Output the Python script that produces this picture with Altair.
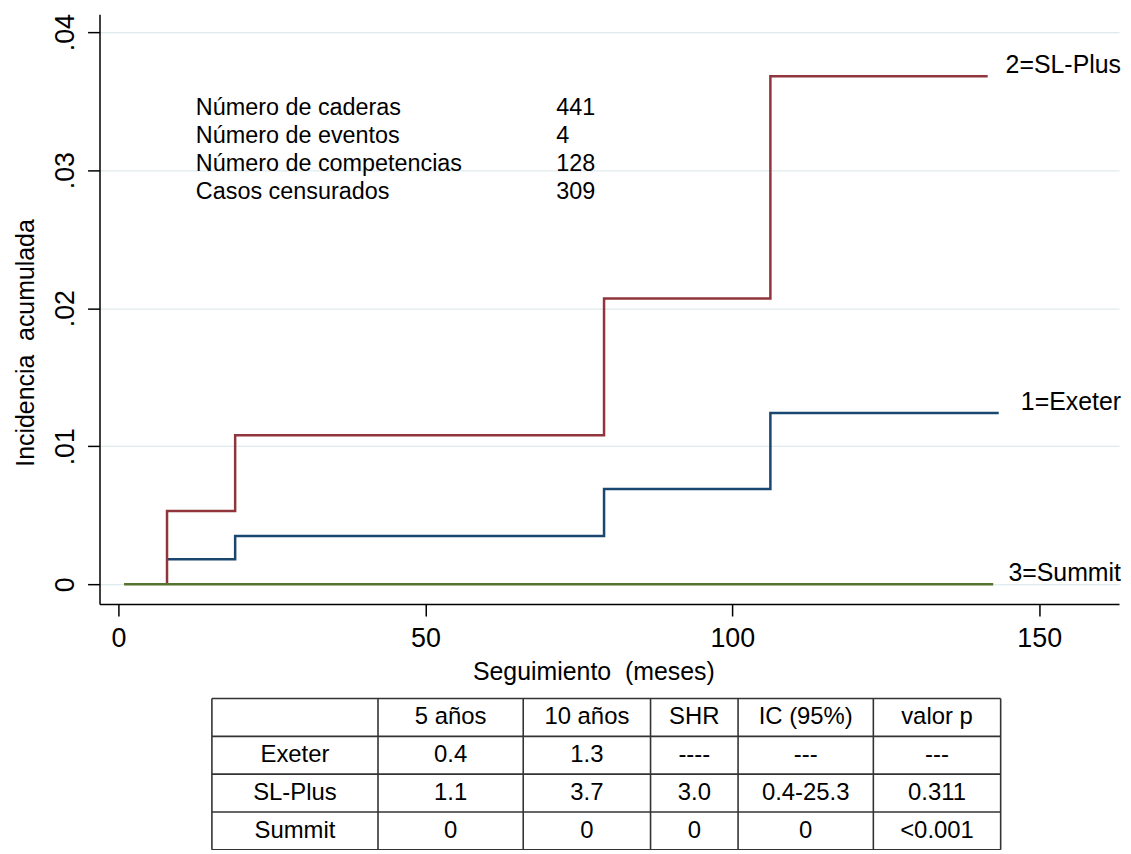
import altair as alt
import pandas as pd

# ---------------- data ----------------
series_names = ["Exeter", "SL-Plus", "Summit"]
series_labels = ["1=Exeter", "2=SL-Plus", "3=Summit"]
series_colors = ["#1a476f", "#90353b", "#55752f"]

exeter_t = [7.9, 19.0, 79.1, 106.2, 143.4]
exeter_v = [0.0018, 0.0035, 0.0069, 0.0124, 0.0124]
slplus_t = [7.9, 7.9, 19.0, 79.1, 106.2, 141.6]
slplus_v = [0.0, 0.0053, 0.0108, 0.0207, 0.0368, 0.0368]
summit_t = [0.9, 142.5]
summit_v = [0.0, 0.0]

x_ticks = [0, 50, 100, 150]
y_ticks = [0, 0.01, 0.02, 0.03, 0.04]

info_labels = ["Número de caderas", "Número de eventos", "Número de competencias", "Casos censurados"]
info_values = ["441", "4", "128", "309"]

table_header = ["", "5 años", "10 años", "SHR", "IC (95%)", "valor p"]
table_rows = ["Exeter", "SL-Plus", "Summit"]
five_years = ["0.4", "1.1", "0"]
ten_years = ["1.3", "3.7", "0"]
shr = ["----", "3.0", "0"]
ic95 = ["---", "0.4-25.3", "0"]
p_value = ["---", "0.311", "<0.001"]

# ---------------- layout constants ----------------
W, H = 1025, 593
FONT = "Liberation Sans, Arial, Helvetica, sans-serif"
X_DOMAIN = [-3.1, 163.0]
Y_DOMAIN = [-0.00144, 0.0413]
col_w = [167, 146, 128, 88, 136, 128]          # table column widths
TABLE_X_RANGE = [113, 906]
TABLE_Y_RANGE = [688, 840]

# ---------------- frames ----------------
rows = []
for name, ts, vs in [("Exeter", exeter_t, exeter_v), ("SL-Plus", slplus_t, slplus_v), ("Summit", summit_t, summit_v)]:
    for i, (t, v) in enumerate(zip(ts, vs)):
        rows.append({"serie": name, "t": t, "v": v, "idx": i})
lines_df = pd.DataFrame(rows)

last_vals = [exeter_v[-1], slplus_v[-1], summit_v[-1]]
lab_df = pd.DataFrame({"serie": series_names, "label": series_labels, "v": last_vals})

info_df = pd.DataFrame({
    "label": info_labels,
    "value": info_values,
    "y": [0.0340 - i * 0.00204 for i in range(len(info_labels))],
})

xs = alt.Scale(domain=X_DOMAIN, nice=False, zero=False)
ys = alt.Scale(domain=Y_DOMAIN, nice=False, zero=False)

x_axis = alt.Axis(
    values=x_ticks, format="d", grid=False,
    tickSize=12, tickWidth=1.5, tickColor="black",
    domainColor="black", domainWidth=1.5,
    labelFont=FONT, labelFontSize=27, labelColor="black",
    labelBaseline="alphabetic", labelPadding=31, labelFlush=False, labelOverlap=False,
    title="Seguimiento\u00a0 (meses)", titleFont=FONT, titleFontSize=25,
    titleFontWeight="normal", titleColor="black",
    titleX=496.5, titleY=76, titleAlign="center", titleBaseline="alphabetic",
)
y_axis = alt.Axis(
    values=y_ticks,
    labelExpr="datum.value == 0 ? '0' : replace(format(datum.value, '.2f'), '0.', '.')",
    grid=True, gridColor="#dfeaed", gridWidth=1.2,
    tickSize=12, tickWidth=1.5, tickColor="black",
    domainColor="black", domainWidth=1.5,
    labelFont=FONT, labelFontSize=27, labelColor="black",
    labelAngle=270, labelAlign="center", labelBaseline="alphabetic", labelPadding=14,
    labelOverlap=False, labelFlush=False,
    title="Incidencia\u00a0 acumulada", titleFont=FONT, titleFontSize=25,
    titleFontWeight="normal", titleColor="black",
    titleAngle=270, titleX=-66, titleY=330, titleAlign="center", titleBaseline="alphabetic",
)

color = alt.Color("serie:N", scale=alt.Scale(domain=series_names, range=series_colors), legend=None)

lines = alt.Chart(lines_df).mark_line(interpolate="step-after", strokeWidth=2.5).encode(
    x=alt.X("t:Q", scale=xs, axis=x_axis),
    y=alt.Y("v:Q", scale=ys, axis=y_axis),
    color=color,
    order=alt.Order("idx:Q"),
)

end_labels = alt.Chart(lab_df).mark_text(
    align="right", baseline="alphabetic", dy=-3, font=FONT, fontSize=25, color="black"
).encode(
    x=alt.value(W + 2),
    y=alt.Y("v:Q", scale=ys),
    text="label:N",
)

info_text = alt.Chart(info_df).mark_text(
    align="left", baseline="alphabetic", font=FONT, fontSize=23.5, color="black"
).encode(
    x=alt.X("lx:Q", scale=xs),
    y=alt.Y("y:Q", scale=ys),
    text="label:N",
).transform_calculate(lx="12.6")

info_vals = alt.Chart(info_df).mark_text(
    align="left", baseline="alphabetic", font=FONT, fontSize=23.5, color="black"
).encode(
    x=alt.X("vx:Q", scale=xs),
    y=alt.Y("y:Q", scale=ys),
    text="value:N",
).transform_calculate(vx="71.3")

plot = alt.layer(lines, end_labels, info_text, info_vals)

# ---------------- table ----------------
edges = [0]
for w in col_w:
    edges.append(edges[-1] + w)
total_w = edges[-1]
n_rows = len(table_rows) + 1

cells = []
for c, h in enumerate(table_header):
    cells.append({"cx": (edges[c] + edges[c + 1]) / 2, "cy": 0.5, "txt": h})
cols = [table_rows, five_years, ten_years, shr, ic95, p_value]
for r in range(len(table_rows)):
    for c, col in enumerate(cols):
        cells.append({"cx": (edges[c] + edges[c + 1]) / 2, "cy": r + 1.5, "txt": col[r]})
cells_df = pd.DataFrame(cells)

hl_df = pd.DataFrame({"y": list(range(n_rows + 1)), "x0": 0, "x1": total_w})
vl_df = pd.DataFrame({"x": edges, "y0": 0, "y1": n_rows})

tx = alt.Scale(domain=[0, total_w], range=TABLE_X_RANGE, nice=False, zero=False)
ty = alt.Scale(domain=[0, n_rows], range=TABLE_Y_RANGE, nice=False, zero=False)

hlines = alt.Chart(hl_df).mark_rule(color="#333333", strokeWidth=1.6).encode(
    x=alt.X("x0:Q", scale=tx, axis=None), x2="x1:Q",
    y=alt.Y("y:Q", scale=ty, axis=None),
)
vlines = alt.Chart(vl_df).mark_rule(color="#333333", strokeWidth=1.6).encode(
    x=alt.X("x:Q", scale=tx, axis=None),
    y=alt.Y("y0:Q", scale=ty, axis=None), y2="y1:Q",
)
cell_text = alt.Chart(cells_df).mark_text(
    align="center", baseline="middle", font=FONT, fontSize=24, color="black"
).encode(
    x=alt.X("cx:Q", scale=tx, axis=None),
    y=alt.Y("cy:Q", scale=ty, axis=None),
    text="txt:N",
)
table = alt.layer(hlines, vlines, cell_text)

chart = alt.layer(plot, table).resolve_scale(x="independent", y="independent").properties(
    width=W, height=H,
    padding={"left": 92, "top": 4, "right": 4, "bottom": 245},
    autosize=alt.AutoSizeParams(type="none"),
    background="white",
).configure_view(stroke=None)

chart.save("out.html", embed_options={"renderer": "svg", "actions": False})
